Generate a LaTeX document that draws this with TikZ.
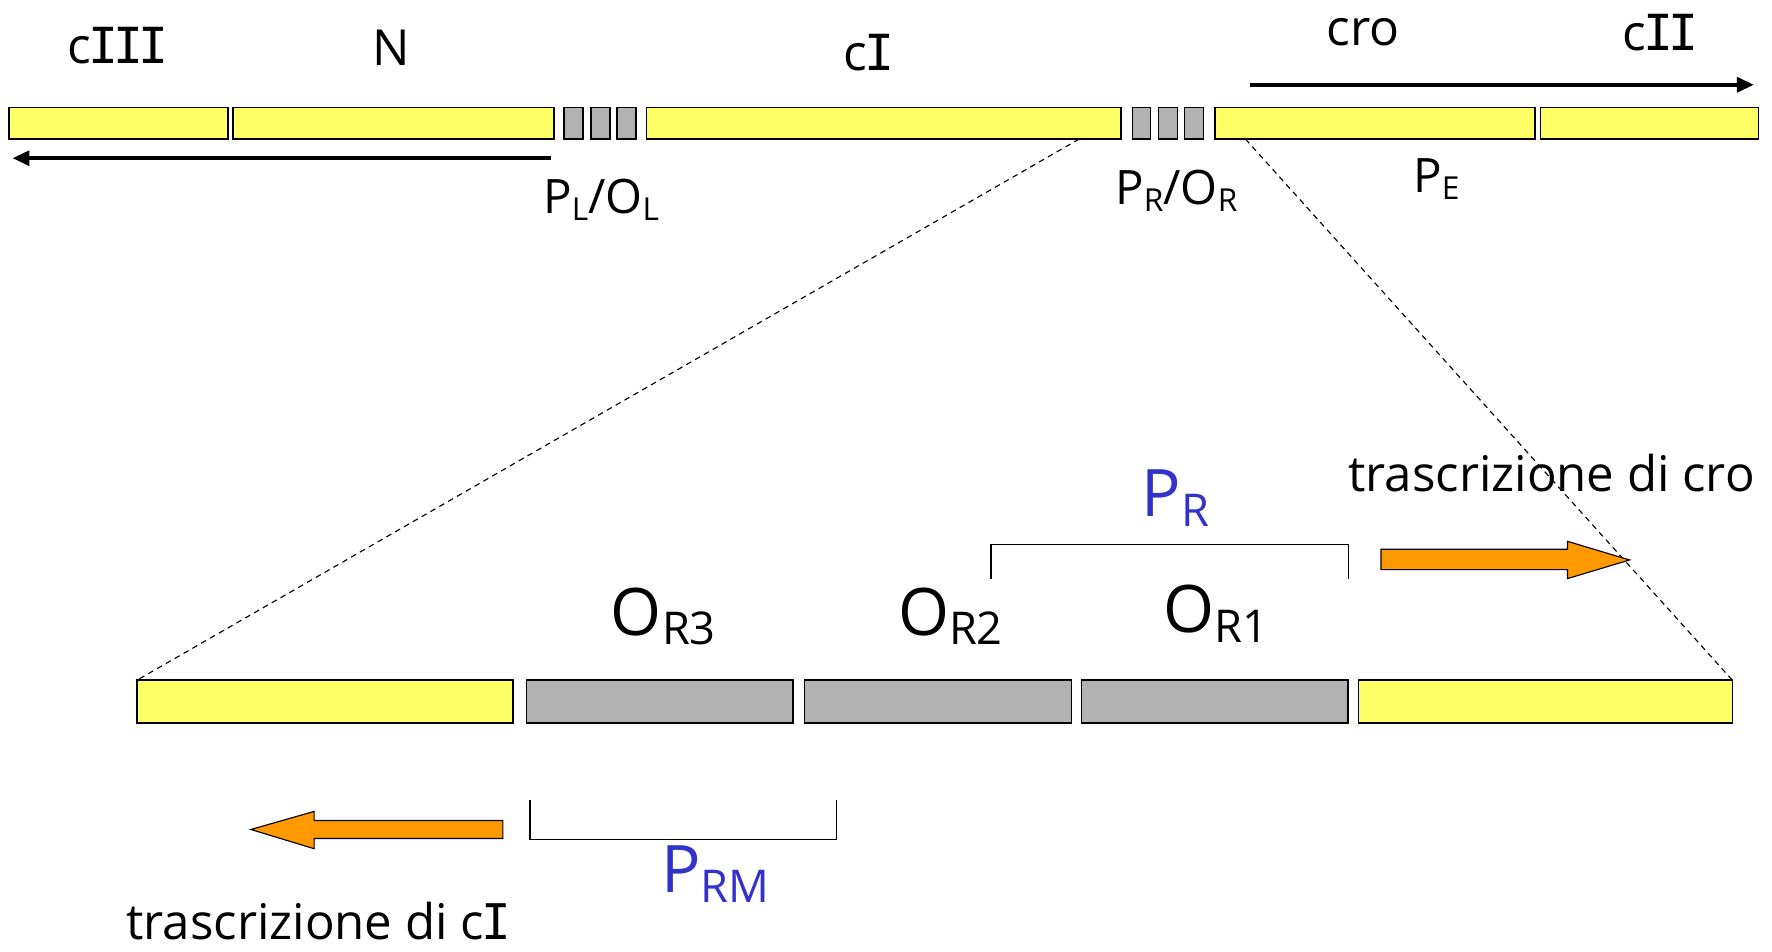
\documentclass[tikz,border=0pt]{standalone}
\usepackage{fontspec}
\setmainfont{Open Sans}
\newfontfamily\serI{DejaVu Sans Mono}
\usetikzlibrary{arrows.meta,calc}
\definecolor{gy}{HTML}{FFFF66}
\definecolor{gg}{HTML}{B2B2B2}
\definecolor{orng}{HTML}{FF9900}
\definecolor{pblue}{HTML}{3333CC}
\newcommand\lsub[2]{\raisebox{-0.28ex}{\fontsize{#1}{#1}\selectfont #2}}
\newcommand\bI{{\serI\kern-0.05em I\kern-0.05em}}
\begin{document}
\begin{tikzpicture}[x=1pt,y=-1pt,
  box/.style={draw=black, line width=1.5pt, inner sep=0pt, outer sep=0pt, anchor=north west},
  ybox/.style={box, fill=gy},
  gbox/.style={box, fill=gg},
  topbox/.style={minimum height=28pt},
  botbox/.style={minimum height=38pt},
  genelbl/.style={anchor=base, inner sep=0pt, font=\fontsize{44}{48}\selectfont},
  smalllbl/.style={anchor=base, inner sep=0pt, font=\fontsize{42}{46}\selectfont},
  biglbl/.style={anchor=base, inner sep=0pt, font=\fontsize{58}{62}\selectfont},
  translbl/.style={anchor=base, inner sep=0pt, font=\fontsize{43.5}{48}\selectfont},
  blarrow/.style={line width=3.5pt, -{Triangle[length=15pt,width=13pt]}},
  zoomline/.style={dashed, dash pattern=on 5pt off 4pt, line width=1pt},
  brk/.style={line width=1.2pt},
  oarrow/.style={fill=orng, draw=black, line width=1pt, line join=miter}
]
\useasboundingbox (0,0) rectangle (1568,842);

% top row
\node[ybox, topbox, minimum width=194pt] (cIIIb) at (8,95) {};
\node[ybox, topbox, minimum width=284pt] (Nb) at (206,95) {};
\node[gbox, topbox, minimum width=17pt] (g1) at (499,95) {};
\node[gbox, topbox, minimum width=17pt] (g2) at (523,95) {};
\node[gbox, topbox, minimum width=17pt] (g3) at (546,95) {};
\node[ybox, topbox, minimum width=420pt] (cIb) at (572,95) {};
\node[gbox, topbox, minimum width=16pt] (g4) at (1002,95) {};
\node[gbox, topbox, minimum width=17pt] (g5) at (1025,95) {};
\node[gbox, topbox, minimum width=17pt] (g6) at (1048,95) {};
\node[ybox, topbox, minimum width=283pt] (crob) at (1075,95) {};
\node[ybox, topbox, minimum width=193pt] (cIIb) at (1363,95) {};

% top labels
\node[genelbl] (tcIII) at (103,56) {c\bI\bI\bI};
\node[genelbl] (tN) at (346,58) {N};
\node[genelbl] (tcI) at (768,62) {c\bI};
\node[genelbl] (tcro) at (1206,40) {cro};
\node[genelbl] (tcII) at (1468,45) {c\bI\bI};
\node[smalllbl] (tPL) at (532,189) {P\lsub{28}{L}/O\lsub{28}{L}};
\node[smalllbl] (tPR) at (1041,181) {P\lsub{28}{R}/O\lsub{28}{R}};
\node[smalllbl] (tPE) at (1271,170) {P\lsub{28}{E}};

% top arrows
\coordinate (la1) at (488,140);
\coordinate (la2) at (11,140);
\coordinate (ra1) at (1106,75);
\coordinate (ra2) at (1552,75);
\draw[blarrow] (la1) -- (la2);
\draw[blarrow] (ra1) -- (ra2);

% bottom row
\node[ybox, botbox, minimum width=333pt] (blb) at (121,602) {};
\node[gbox, botbox, minimum width=236pt] (or3) at (466,602) {};
\node[gbox, botbox, minimum width=236pt] (or2) at (712,602) {};
\node[gbox, botbox, minimum width=236pt] (or1) at (957,602) {};
\node[ybox, botbox, minimum width=331pt] (brb) at (1202,602) {};

% zoom lines
\draw[zoomline] ([xshift=-37pt]cIb.south east) -- (blb.north west);
\draw[zoomline] ([xshift=27pt]crob.south west) -- (brb.north east);

% bottom labels
\node[biglbl] (tOR3) at (587,562) {O\lsub{40}{R3}};
\node[biglbl] (tOR2) at (841,562) {O\lsub{40}{R2}};
\node[biglbl] (tOR1) at (1076,560) {O\lsub{40}{R1}};
\node[biglbl, text=pblue] (tPRb) at (1040,457) {P\lsub{40}{R}};
\node[biglbl, text=pblue] (tPRM) at (633,790) {P\lsub{40}{RM}};
\node[translbl] (ttcro) at (1373,435) {trascrizione di cro};
\node[translbl] (ttcI) at (281,831) {trascrizione di c\bI};

% brackets
\draw[brk] (877,512) -- (877,482) -- (1193,482) -- (1193,512);
\draw[brk] (469,708) -- (469,743) -- (740,743) -- (740,708);

% orange arrows
\draw[oarrow] (1222,486) -- (1387,486) -- (1387,479) -- (1442,495.5) -- (1387,512) -- (1387,504) -- (1222,504) -- cycle;
\draw[oarrow] (445,726) -- (278,726) -- (278,718) -- (222,734) -- (278,751) -- (278,742) -- (445,742) -- cycle;
\end{tikzpicture}
\end{document}
